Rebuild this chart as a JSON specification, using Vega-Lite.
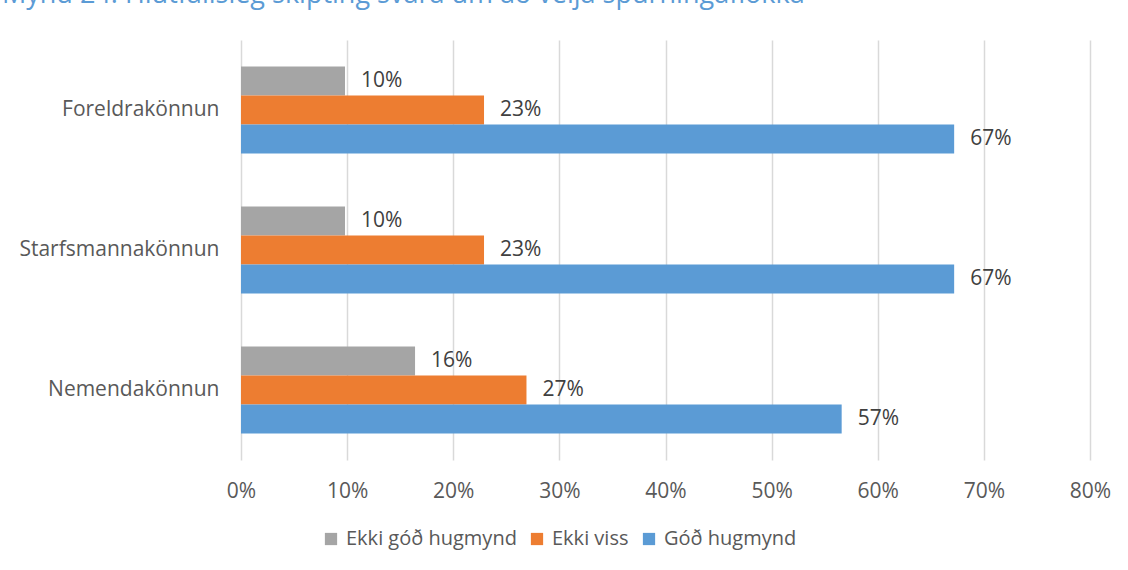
{
  "$schema": "https://vega.github.io/schema/vega-lite/v6.json",
  "autosize": "none",
  "width": 849,
  "height": 420,
  "padding": {"left": 241, "top": 40, "right": 38, "bottom": 110},
  "background": "white",
  "title": {
    "text": "Mynd 24: Hlutfallsleg skipting svara um að velja spurningaflokka",
    "anchor": "start",
    "frame": "group",
    "dx": -239,
    "offset": 10,
    "baseline": "alphabetic",
    "font": "Open Sans",
    "fontSize": 27,
    "fontWeight": "normal",
    "color": "#5b9bd5"
  },
  "config": {
    "view": {"stroke": null},
    "font": "Open Sans"
  },
  "data": {
    "values": [
      {"konnun": "Foreldrakönnun", "svar": "Ekki góð hugmynd", "hlutfall": 0.098},
      {"konnun": "Foreldrakönnun", "svar": "Ekki viss", "hlutfall": 0.229},
      {"konnun": "Foreldrakönnun", "svar": "Góð hugmynd", "hlutfall": 0.672},
      {"konnun": "Starfsmannakönnun", "svar": "Ekki góð hugmynd", "hlutfall": 0.098},
      {"konnun": "Starfsmannakönnun", "svar": "Ekki viss", "hlutfall": 0.229},
      {"konnun": "Starfsmannakönnun", "svar": "Góð hugmynd", "hlutfall": 0.672},
      {"konnun": "Nemendakönnun", "svar": "Ekki góð hugmynd", "hlutfall": 0.164},
      {"konnun": "Nemendakönnun", "svar": "Ekki viss", "hlutfall": 0.269},
      {"konnun": "Nemendakönnun", "svar": "Góð hugmynd", "hlutfall": 0.566}
    ]
  },
  "encoding": {
    "y": {
      "field": "konnun",
      "type": "nominal",
      "sort": ["Foreldrakönnun", "Starfsmannakönnun", "Nemendakönnun"],
      "scale": {"paddingInner": 0.38, "paddingOuter": 0.19},
      "axis": {
        "title": null,
        "domain": false,
        "ticks": false,
        "labelPadding": 22,
        "labelFontSize": 21,
        "labelLimit": 0,
        "labelColor": "#595959",
        "labelFont": "Open Sans"
      }
    },
    "yOffset": {
      "field": "svar",
      "type": "nominal",
      "sort": ["Ekki góð hugmynd", "Ekki viss", "Góð hugmynd"],
      "scale": {"paddingInner": 0, "paddingOuter": 0}
    },
    "x": {
      "field": "hlutfall",
      "type": "quantitative",
      "scale": {"domain": [0, 0.8], "nice": false},
      "axis": {
        "title": null,
        "format": ".0%",
        "values": [0, 0.1, 0.2, 0.3, 0.4, 0.5, 0.6, 0.7, 0.8],
        "domain": false,
        "ticks": false,
        "grid": true,
        "gridColor": "#d9d9d9",
        "gridWidth": 1.5,
        "labelFlush": false,
        "labelPadding": 20,
        "labelFontSize": 21,
        "labelColor": "#595959",
        "labelFont": "Open Sans"
      }
    }
  },
  "layer": [
    {
      "mark": {"type": "bar"},
      "encoding": {
        "color": {
          "field": "svar",
          "type": "nominal",
          "sort": ["Ekki góð hugmynd", "Ekki viss", "Góð hugmynd"],
          "scale": {
            "domain": ["Ekki góð hugmynd", "Ekki viss", "Góð hugmynd"],
            "range": ["#a5a5a5", "#ed7d31", "#5b9bd5"]
          },
          "legend": {
            "title": null,
            "orient": "none",
            "direction": "horizontal",
            "legendX": 80,
            "legendY": 489,
            "symbolType": "square",
            "symbolSize": 150,
            "symbolStrokeWidth": 0,
            "labelFontSize": 20,
            "labelLimit": 0,
            "labelColor": "#595959",
            "labelFont": "Open Sans",
            "columnPadding": 10,
            "labelOffset": 5
          }
        }
      }
    },
    {
      "mark": {
        "type": "text",
        "align": "left",
        "baseline": "middle",
        "dx": 16,
        "fontSize": 21,
        "color": "#404040",
        "font": "Open Sans"
      },
      "encoding": {
        "text": {"field": "hlutfall", "type": "quantitative", "format": ".0%"}
      }
    }
  ]
}
